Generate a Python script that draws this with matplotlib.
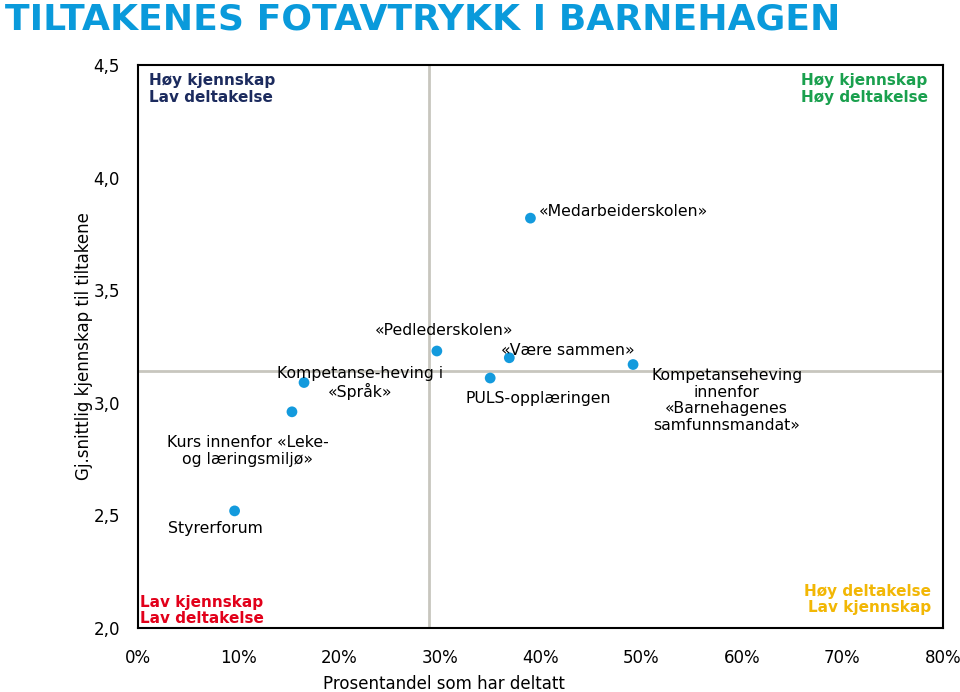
import matplotlib.pyplot as plt
from matplotlib.ticker import FuncFormatter

# Data (andel deltatt i %, gj.snittlig kjennskap)
labels = ["«Medarbeiderskolen»", "«Pedlederskolen»", "«Være sammen»", "PULS-opplæringen",
          "Kompetanseheving\ninnenfor\n«Barnehagenes\nsamfunnsmandat»",
          "Kompetanse-heving i\n«Språk»", "Kurs innenfor «Leke-\nog læringsmiljø»", "Styrerforum"]
deltatt = [39.0, 29.7, 36.9, 35.0, 49.2, 16.5, 15.3, 9.6]
kjennskap = [3.82, 3.23, 3.20, 3.11, 3.17, 3.09, 2.96, 2.52]

# Label positions (data coords) and alignment
label_pos = [(39.8, 3.85, 'left'), (30.4, 3.32, 'center'), (42.7, 3.234, 'center'),
             (39.8, 3.02, 'center'), (58.5, 3.01, 'center'), (22.1, 3.086, 'center'),
             (10.9, 2.786, 'center'), (7.65, 2.44, 'center')]

x_split = 28.9
y_split = 3.14

BLUE = '#139ADD'
GRID = '#C8C6BE'

fig = plt.figure(figsize=(9.6, 6.92), dpi=100)
ax = fig.add_axes([138 / 960, 64 / 692, 805 / 960, 563 / 692])

ax.axvline(x_split, color=GRID, linewidth=2, zorder=1)
ax.axhline(y_split, color=GRID, linewidth=2, zorder=1)

ax.scatter(deltatt, kjennskap, s=60, color=BLUE, zorder=3, edgecolors='none')

for text, (lx, ly, ha) in zip(labels, label_pos):
    ax.text(lx, ly, text, ha=ha, va='center', fontsize=11.3, color='black',
            linespacing=1.15, zorder=4)

ax.set_xlim(0, 80)
ax.set_ylim(2.0, 4.5)
ax.set_xticks(range(0, 81, 10))
ax.set_yticks([2.0, 2.5, 3.0, 3.5, 4.0, 4.5])
ax.xaxis.set_major_formatter(FuncFormatter(lambda v, p: f"{int(v)}%"))
ax.yaxis.set_major_formatter(FuncFormatter(lambda v, p: f"{v:.1f}".replace('.', ',')))
ax.tick_params(axis='both', length=0, labelsize=12)
ax.tick_params(axis='x', pad=15)
ax.tick_params(axis='y', pad=13)
for sp in ax.spines.values():
    sp.set_linewidth(1.5)
    sp.set_color('black')

ax.text((444 - 138) / 805, (628 - 684) / 563, "Prosentandel som har deltatt",
        transform=ax.transAxes, ha='center', va='center', fontsize=12)
ax.text((84 - 138) / 805, 0.50, "Gj.snittlig kjennskap til tiltakene",
        transform=ax.transAxes, ha='center', va='center', rotation=90, fontsize=12)

# Kvadrant-tekster
ax.text(0.014, 0.985, "Høy kjennskap\nLav deltakelse", transform=ax.transAxes,
        ha='left', va='top', fontsize=11, fontweight='bold', color='#1C2B5E', linespacing=1.1)
ax.text(0.981, 0.985, "Høy kjennskap\nHøy deltakelse", transform=ax.transAxes,
        ha='right', va='top', fontsize=11, fontweight='bold', color='#1AA04E', linespacing=1.1)
ax.text(0.002, 0.003, "Lav kjennskap\nLav deltakelse", transform=ax.transAxes,
        ha='left', va='bottom', fontsize=11, fontweight='bold', color='#E2001A', linespacing=1.1)
ax.text(0.985, 0.023, "Høy deltakelse\nLav kjennskap", transform=ax.transAxes,
        ha='right', va='bottom', fontsize=11, fontweight='bold', color='#F2B705', linespacing=1.1)

fig.text(5 / 960, 1 - 19 / 692, "TILTAKENES FOTAVTRYKK I BARNEHAGEN", ha='left', va='center',
         fontsize=26, fontweight='bold', color='#0A9ADB')

fig.savefig('out.png', dpi=100)
